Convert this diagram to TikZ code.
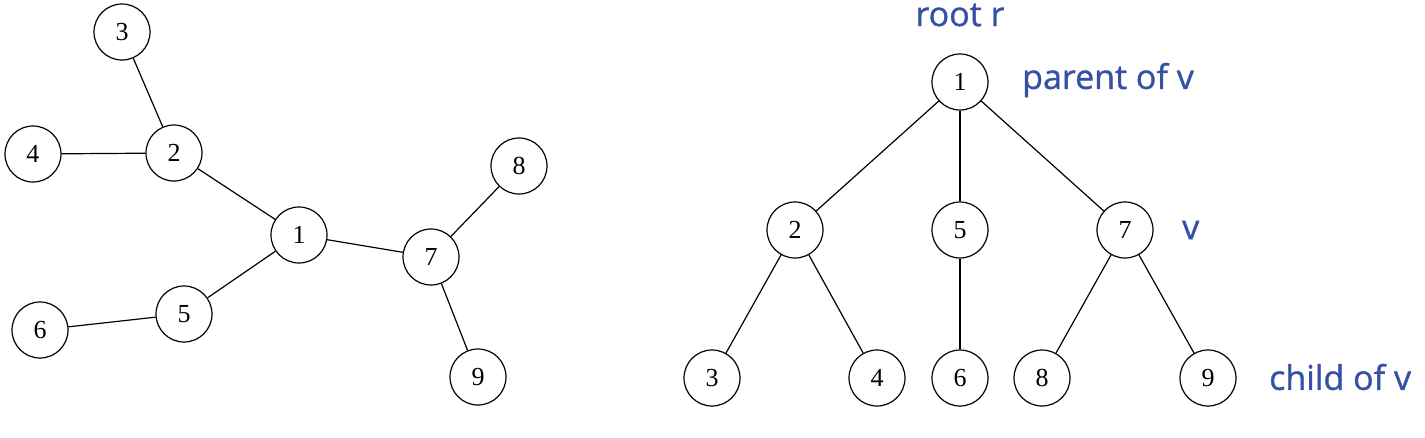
\documentclass[tikz,border=0pt]{standalone}
\usepackage{fontspec}
\setmainfont{Liberation Serif}
\newfontfamily\lblfont[FakeBold=1]{Open Sans}
\definecolor{lblblue}{HTML}{3550A5}
\begin{document}
\begin{tikzpicture}[x=1pt,y=-1pt,
  vert/.style={circle,draw,line width=1.2pt,minimum size=56pt,inner sep=0pt,font=\fontsize{26}{26}\selectfont},
  edge/.style={line width=1.2pt},
  lbl/.style={text=lblblue,font=\lblfont\fontsize{34}{34}\selectfont,inner sep=0pt}]
\useasboundingbox (0,0) rectangle (1425,437);
% left graph
\node[vert] (a3) at (122,32) {3};
\node[vert] (a4) at (33,154) {4};
\node[vert] (a2) at (174,153) {2};
\node[vert] (a1) at (299,235) {1};
\node[vert] (a7) at (431,257) {7};
\node[vert] (a8) at (519,166) {8};
\node[vert] (a5) at (184,314) {5};
\node[vert] (a6) at (40,330) {6};
\node[vert] (a9) at (478,377) {9};
\draw[edge] (a3)--(a2);
\draw[edge] (a4)--(a2);
\draw[edge] (a2)--(a1);
\draw[edge] (a1)--(a7);
\draw[edge] (a1)--(a5);
\draw[edge] (a5)--(a6);
\draw[edge] (a7)--(a8);
\draw[edge] (a7)--(a9);
% right tree
\node[vert] (b1) at (960,82) {1};
\node[vert] (b2) at (795,230) {2};
\node[vert] (b5) at (960,230) {5};
\node[vert] (b7) at (1125,230) {7};
\node[vert] (b3) at (712,378) {3};
\node[vert] (b4) at (877,378) {4};
\node[vert] (b6) at (960,378) {6};
\node[vert] (b8) at (1042,378) {8};
\node[vert] (b9) at (1208,378) {9};
\draw[edge] (b1)--(b2);
\draw[edge] (b1)--(b5);
\draw[edge] (b1)--(b7);
\draw[edge] (b2)--(b3);
\draw[edge] (b2)--(b4);
\draw[edge] (b5)--(b6);
\draw[edge] (b7)--(b8);
\draw[edge] (b7)--(b9);
% labels
\node[lbl] (lroot) at (960,15) {root r};
\node[lbl,anchor=west] (lpar) at (1022,80) {parent of v};
\node[lbl,anchor=west] (lv) at (1182,230) {v};
\node[lbl,anchor=west] (lchild) at (1269,377) {child of v};
\end{tikzpicture}
\end{document}
